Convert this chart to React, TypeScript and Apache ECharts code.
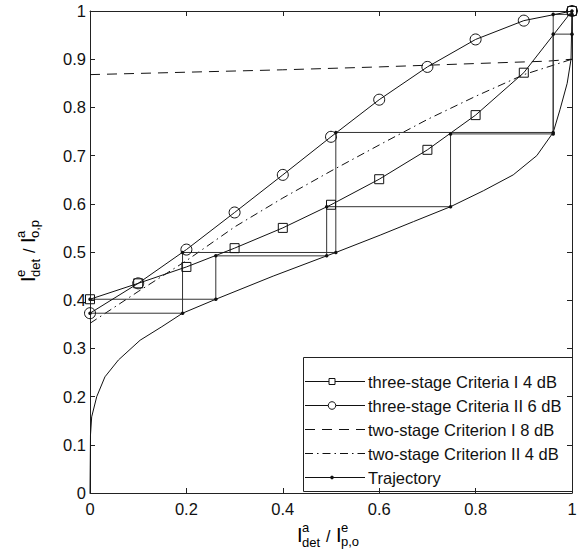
import { useEffect, useRef } from "react";
import * as echarts from "echarts";

// ---- data ----
const gridX = [0, 0.1, 0.2, 0.3, 0.4, 0.5, 0.6, 0.7, 0.8, 0.9, 1.0];
const threeStageI4 = [0.402, 0.435, 0.469, 0.508, 0.55, 0.598, 0.651, 0.712, 0.784, 0.872, 1.0];
const threeStageII6 = [0.373, 0.435, 0.505, 0.582, 0.66, 0.739, 0.816, 0.884, 0.941, 0.98, 1.0];
const twoStageIX = [0, 0.2, 0.4, 0.6, 0.8, 0.95, 1.0];
const twoStageI8 = [0.868, 0.873, 0.878, 0.884, 0.891, 0.896, 0.9];
const twoStageII4 = [0.352, 0.418, 0.482, 0.552, 0.612, 0.668, 0.722, 0.775, 0.823, 0.868, 0.9];
const lowerX = [0, 0.001, 0.0035, 0.014, 0.031, 0.059, 0.104, 0.149, 0.192, 0.261, 0.38, 0.491, 0.51, 0.602, 0.671, 0.748, 0.816, 0.878, 0.927, 0.961, 0.975, 0.99, 0.998, 1.0];
const lowerY = [0, 0.12, 0.158, 0.2, 0.241, 0.276, 0.317, 0.345, 0.373, 0.402, 0.45, 0.492, 0.499, 0.535, 0.563, 0.594, 0.627, 0.66, 0.7, 0.748, 0.795, 0.85, 0.9, 1.0];
const traj1X = [0, 0.192, 0.192, 0.51, 0.51, 0.961, 0.961, 1.0];
const traj1Y = [0.373, 0.373, 0.499, 0.499, 0.748, 0.748, 0.993, 0.993];
const traj2X = [0, 0.261, 0.261, 0.491, 0.491, 0.748, 0.748, 0.961, 0.961, 1.0, 1.0];
const traj2Y = [0.402, 0.402, 0.492, 0.492, 0.594, 0.594, 0.745, 0.745, 0.952, 0.952, 1.0];
const xTicks = [0, 0.2, 0.4, 0.6, 0.8, 1];
const yTicks = [0, 0.1, 0.2, 0.3, 0.4, 0.5, 0.6, 0.7, 0.8, 0.9, 1];
const legendLabels = [
  "three-stage Criteria I 4 dB",
  "three-stage Criteria II 6 dB",
  "two-stage Criterion I 8 dB",
  "two-stage Criterion II 4 dB",
  "Trajectory",
];

const FONT = "'Liberation Sans', Arial, Helvetica, sans-serif";
const zip = (xs: number[], ys: number[]) => xs.map((x, i) => [x, ys[i]]);

function titleGroup(
  x: number,
  y: number,
  rotation: number,
  a: [string, string, string],
  b: [string, string, string]
) {
  const t = (text: string, dx: number, dy: number, size: number) => ({
    type: "text",
    x: dx,
    y: dy,
    style: {
      text,
      fontSize: size,
      fontFamily: FONT,
      fill: "#000",
      align: "left",
      verticalAlign: "middle",
      textAlign: "left",
      textVerticalAlign: "middle",
    },
  });
  return {
    type: "group",
    x,
    y,
    rotation,
    children: [
      t(a[0], -30, 0, 20),
      t(a[1], -25, -7.5, 13),
      t(a[2], -25, 7.5, 13),
      t("/", -1, 1.5, 16),
      t(b[0], 9, 0, 20),
      t(b[1], 14, -7.5, 13),
      t(b[2], 14, 6.5, 13),
    ],
  };
}

function legendGraphic() {
  const left = 303,
    top = 357,
    right = 572,
    bottom = 491;
  const rowY = (i: number) => 381 + i * 24;
  const lx1 = 305,
    lx2 = 365,
    mx = 332;
  const children: any[] = [
    {
      type: "rect",
      shape: { x: left + 0.5, y: top + 0.5, width: right - left, height: bottom - top },
      style: { fill: "#fff", stroke: "#222", lineWidth: 1 },
    },
  ];
  const dashes: (number[] | null)[] = [null, null, [10, 7], [8, 4, 1.5, 4], null];
  legendLabels.forEach((label, i) => {
    const y = Math.round(rowY(i)) + 0.5;
    children.push({
      type: "line",
      shape: { x1: lx1, y1: y, x2: lx2, y2: y },
      style: { stroke: "#111", lineWidth: 1, lineDash: dashes[i] || undefined },
    });
    if (i === 0) {
      children.push({
        type: "rect",
        shape: { x: mx - 3, y: y - 3, width: 6, height: 6 },
        style: { fill: "#fff", stroke: "#111", lineWidth: 1 },
      });
    } else if (i === 1) {
      children.push({
        type: "circle",
        shape: { cx: mx, cy: y, r: 3.8 },
        style: { fill: "#fff", stroke: "#111", lineWidth: 1 },
      });
    } else if (i === 4) {
      children.push({
        type: "circle",
        shape: { cx: mx, cy: y, r: 1.6 },
        style: { fill: "#111", stroke: "#111", lineWidth: 0.5 },
      });
    }
    children.push({
      type: "text",
      x: 368,
      y,
      style: {
        text: label,
        fontSize: 16.5,
        fontFamily: FONT,
        fill: "#111",
        align: "left",
        verticalAlign: "middle",
        textAlign: "left",
        textVerticalAlign: "middle",
      },
    });
  });
  return { type: "group", z: 100, children };
}

export default function App() {
  const ref = useRef<HTMLDivElement>(null);
  useEffect(() => {
    if (!ref.current) return;
    const chart = echarts.init(ref.current, undefined, { renderer: "svg" });
    const axisLine = { show: true, onZero: false, lineStyle: { color: "#222", width: 1 } };
    const tick = { show: true, inside: true, length: 5, lineStyle: { color: "#222", width: 1 } };
    const fmt = (v: number) => String(+v.toFixed(1));
    const markerLine = (color = "#000") => ({ color, width: 1 });
    chart.setOption({
      animation: false,
      backgroundColor: "#fff",
      grid: { left: 90, top: 11, width: 482, height: 482, containLabel: false },
      xAxis: [
        {
          type: "value",
          min: xTicks[0],
          max: xTicks[xTicks.length - 1],
          interval: 0.2,
          position: "bottom",
          axisLine,
          axisTick: tick,
          splitLine: { show: false },
          axisLabel: { margin: 7, fontSize: 16.5, fontFamily: FONT, color: "#111", formatter: fmt },
        },
        {
          type: "value",
          min: xTicks[0],
          max: xTicks[xTicks.length - 1],
          interval: 0.2,
          position: "top",
          axisLine,
          axisTick: tick,
          splitLine: { show: false },
          axisLabel: { show: false },
        },
      ],
      yAxis: [
        {
          type: "value",
          min: yTicks[0],
          max: yTicks[yTicks.length - 1],
          interval: 0.1,
          position: "left",
          axisLine,
          axisTick: tick,
          splitLine: { show: false },
          axisLabel: { margin: 4, fontSize: 16.5, fontFamily: FONT, color: "#111", formatter: fmt },
        },
        {
          type: "value",
          min: yTicks[0],
          max: yTicks[yTicks.length - 1],
          interval: 0.1,
          position: "right",
          axisLine,
          axisTick: tick,
          splitLine: { show: false },
          axisLabel: { show: false },
        },
      ],
      series: [
        {
          type: "line",
          name: "EXIT lower",
          data: zip(lowerX, lowerY),
          symbol: "none",
          lineStyle: markerLine("#111"),
          z: 2,
        },
        {
          type: "line",
          name: legendLabels[4],
          data: zip(traj1X, traj1Y),
          symbol: "circle",
          symbolSize: 3.5,
          itemStyle: { color: "#111" },
          lineStyle: markerLine("#333"),
          z: 3,
        },
        {
          type: "line",
          name: legendLabels[4],
          data: zip(traj2X, traj2Y),
          symbol: "circle",
          symbolSize: 3.5,
          itemStyle: { color: "#111" },
          lineStyle: markerLine("#333"),
          z: 3,
        },
        {
          type: "line",
          name: legendLabels[2],
          data: zip(twoStageIX, twoStageI8),
          symbol: "none",
          lineStyle: { color: "#111", width: 1, type: [10, 7] },
          z: 2,
        },
        {
          type: "line",
          name: legendLabels[3],
          data: zip(gridX, twoStageII4),
          symbol: "none",
          lineStyle: { color: "#111", width: 1, type: [8, 4, 1.5, 4] },
          z: 2,
        },
        {
          type: "line",
          name: legendLabels[0],
          data: zip(gridX, threeStageI4),
          symbol: "rect",
          symbolSize: 9,
          itemStyle: { color: "rgba(0,0,0,0)", borderColor: "#111", borderWidth: 1 },
          lineStyle: markerLine("#111"),
          z: 4,
        },
        {
          type: "line",
          name: legendLabels[1],
          data: zip(gridX, threeStageII6),
          symbol: "circle",
          symbolSize: 11,
          itemStyle: { color: "rgba(0,0,0,0)", borderColor: "#111", borderWidth: 1 },
          lineStyle: markerLine("#111"),
          z: 4,
        },
      ],
      graphic: [
        titleGroup(327, 535, 0, ["I", "a", "det"], ["I", "e", "p,o"]),
        titleGroup(28, 252, Math.PI / 2, ["I", "e", "det"], ["I", "a", "o,p"]),
        legendGraphic(),
      ],
    });
    return () => chart.dispose();
  }, []);
  return (
    <div
      ref={ref}
      style={{ position: "fixed", left: 0, top: 0, width: 584, height: 557, background: "#fff" }}
    />
  );
}
